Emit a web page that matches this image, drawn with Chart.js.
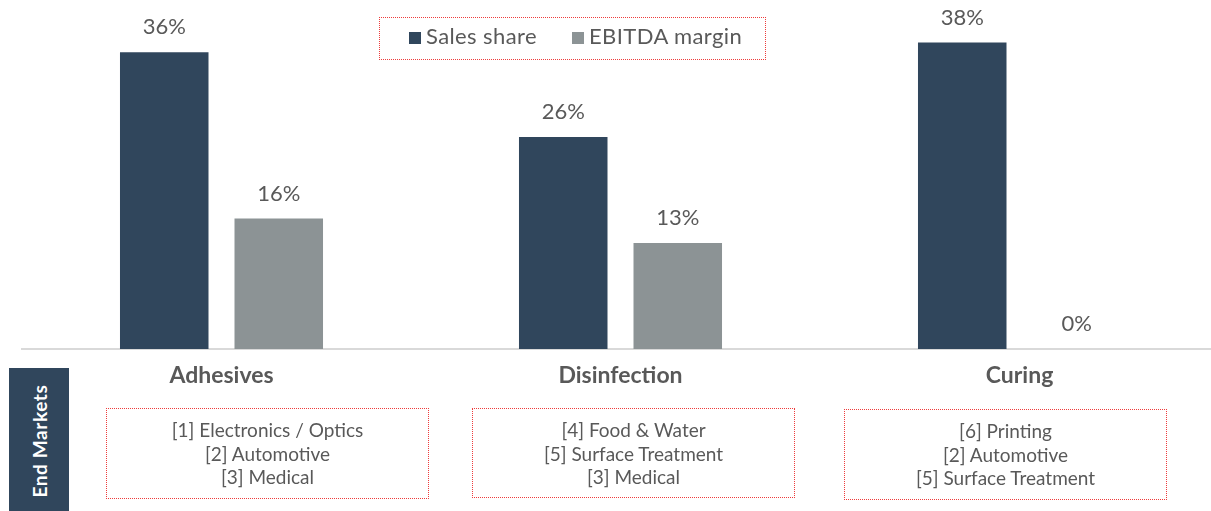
<!DOCTYPE html>
<html>
<head>
<meta charset="utf-8">
<script src="https://cdn.jsdelivr.net/npm/chart.js@4/dist/chart.umd.min.js"></script>
<style>
  html, body { margin: 0; padding: 0; background: #fff; overflow: hidden; }
  body { width: 1211px; height: 511px; position: relative; font-family: Lato, "Noto Sans", sans-serif; color: #595959; }
  #chart { position: absolute; left: 0; top: 0; }
  .legend { position: absolute; left: 379px; top: 17px; width: 385px; height: 41px; border: 1px dotted #ee3b3b;
            font-size: 22px; letter-spacing: 0.4px; }
  .legend span.sw { display: inline-block; width: 12px; height: 12px; margin-right: 5px; vertical-align: 0px; }
  .side { position: absolute; left: 9px; top: 368px; width: 60px; height: 143px; background: #30465c; }
  .side div { position: absolute; left: 30px; top: 73px; transform: translate(-50%, -50%) rotate(-90deg);
              color: #fff; font-weight: bold; font-size: 19px; letter-spacing: 0.6px; white-space: nowrap; }
  .mk { position: absolute; width: 323px; border: 1px dotted #ee3b3b; text-align: center;
        font-size: 19px; line-height: 23.5px; box-sizing: border-box; padding-top: 9px; }
</style>
</head>
<body>
<canvas id="chart" width="1220" height="511"></canvas>
<div class="legend" id="legend"></div>
<div class="side"><div>End Markets</div></div>
<div id="markets"></div>
<script>
const categories = ["Adhesives", "Disinfection", "Curing"];
const seriesNames = ["Sales share", "EBITDA margin"];
const seriesColors = ["#30465c", "#8c9395"];
const salesShare = [36.4, 26, 37.6];
const ebitdaMargin = [16, 13, 0];
const endMarkets = [
  ["[1] Electronics / Optics", "[2] Automotive", "[3] Medical"],
  ["[4] Food & Water", "[5] Surface Treatment", "[3] Medical"],
  ["[6] Printing", "[2] Automotive", "[5] Surface Treatment"]
];
const marketBoxes = [
  { left: 106, top: 408, height: 91 },
  { left: 472, top: 408, height: 90 },
  { left: 844, top: 409, height: 91 }
];

// legend
const legend = document.getElementById("legend");
const legendPos = [29, 192];
seriesNames.forEach((name, i) => {
  const item = document.createElement("div");
  item.style.position = "absolute";
  item.style.left = legendPos[i] + "px";
  item.style.top = "4px";
  item.innerHTML = `<span class="sw" style="background:${seriesColors[i]}"></span>${name}`;
  legend.appendChild(item);
});

// end market boxes
const markets = document.getElementById("markets");
endMarkets.forEach((lines, i) => {
  const box = document.createElement("div");
  box.className = "mk";
  box.style.left = marketBoxes[i].left + "px";
  box.style.top = marketBoxes[i].top + "px";
  box.style.height = marketBoxes[i].height + "px";
  box.innerHTML = lines.map(l => l.replace("&", "&amp;")).join("<br>");
  markets.appendChild(box);
});

// value labels above the bars
const valueLabels = {
  id: "valueLabels",
  afterDatasetsDraw(chart) {
    const ctx = chart.ctx;
    ctx.save();
    ctx.font = "22px Lato, 'Noto Sans', sans-serif";
    ctx.fillStyle = "#595959";
    ctx.textAlign = "center";
    ctx.textBaseline = "middle";
    chart.data.datasets.forEach((ds, di) => {
      chart.getDatasetMeta(di).data.forEach((bar, i) => {
        ctx.fillText(Math.round(ds.data[i]) + "%", bar.x, bar.y - 25);
      });
    });
    ctx.restore();
  }
};

new Chart(document.getElementById("chart").getContext("2d"), {
  type: "bar",
  data: {
    labels: categories,
    datasets: [
      { label: seriesNames[0], data: salesShare, backgroundColor: seriesColors[0] },
      { label: seriesNames[1], data: ebitdaMargin, backgroundColor: seriesColors[1] }
    ]
  },
  options: {
    responsive: false,
    animation: false,
    devicePixelRatio: 1,
    categoryPercentage: 0.574,
    barPercentage: 0.773,
    layout: { padding: { top: 9, left: 22, right: 1, bottom: 0 } },
    plugins: { legend: { display: false }, tooltip: { enabled: false } },
    scales: {
      x: {
        grid: { display: false, drawTicks: false, tickLength: 0 },
        border: { display: true, color: "#d9d9d9", width: 2 },
        ticks: {
          color: "#595959",
          padding: 13,
          font: { family: "Lato, 'Noto Sans', sans-serif", size: 23, weight: "bold" }
        },
        afterFit: s => { s.height = 162; }
      },
      y: { display: false, min: 0, max: 41.7 }
    }
  },
  plugins: [valueLabels]
});
</script>
</body>
</html>
